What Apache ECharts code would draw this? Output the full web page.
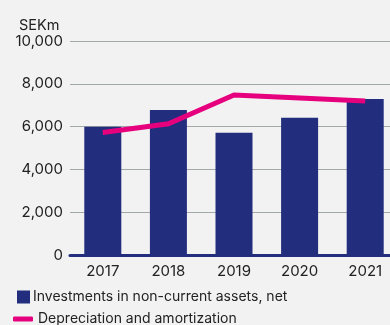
<!DOCTYPE html>
<html>
<head>
<meta charset="utf-8">
<script src="https://cdn.jsdelivr.net/npm/echarts@6/dist/echarts.min.js"></script>
<style>
  html, body { margin: 0; padding: 0; background: #f2f2f2; }
  #chart { width: 390px; height: 325px; }
</style>
</head>
<body>
<div id="chart"></div>
<script>
const years = ['2017', '2018', '2019', '2020', '2021'];
const investments = [5990, 6780, 5710, 6410, 7290];
const depreciation = [5720, 6130, 7480, 7340, 7200];
const yTicks = [0, 2000, 4000, 6000, 8000, 10000];

const NAVY = '#222d7e';
const PINK = '#e6007e';
const FONT = 'Inter';

const chart = echarts.init(document.getElementById('chart'), null, { renderer: 'canvas' });
chart.setOption({
  backgroundColor: '#f2f2f2',
  animation: false,
  textStyle: { fontFamily: FONT, color: '#222' },
  title: {
    text: 'SEKm', left: 14, top: 13,
    textStyle: { fontFamily: FONT, fontSize: 14.5, fontWeight: 'normal', color: '#222' }
  },
  grid: { left: 70, width: 328, top: 41, bottom: 70, containLabel: false, outerBoundsMode: 'none' },
  legend: [
    {
      data: [{ name: 'Investments in non-current assets, net', icon: 'rect' }],
      left: 17, top: 290, itemWidth: 13, itemHeight: 13, itemGap: 0,
      textStyle: { fontFamily: FONT, fontSize: 14, color: '#222', padding: [0, 0, 0, -2] },
      padding: 0, selectedMode: false
    },
    {
      data: [{ name: 'Depreciation and amortization', icon: 'roundRect' }],
      left: 13, top: 312, itemWidth: 20, itemHeight: 5, itemGap: 0,
      textStyle: { fontFamily: FONT, fontSize: 14, color: '#222' },
      padding: 0, selectedMode: false
    }
  ],
  xAxis: {
    type: 'category',
    data: years,
    z: 10,
    axisTick: { show: false },
    axisLine: { show: true, onZero: false, lineStyle: { color: NAVY, width: 3, opacity: 1 } },
    axisLabel: { fontFamily: FONT, fontSize: 15, color: '#222', margin: 9 }
  },
  yAxis: {
    type: 'value',
    z: 0,
    min: yTicks[0], max: yTicks[yTicks.length - 1], interval: 2000,
    axisLine: { show: false },
    axisTick: { show: false },
    splitLine: { showMinLine: false, lineStyle: { color: '#a3a9aa', width: 1 } },
    axisLabel: {
      fontFamily: FONT, fontSize: 15, color: '#222', margin: 7,
      formatter: v => v.toLocaleString('en-US')
    }
  },
  series: [
    {
      name: 'Investments in non-current assets, net',
      type: 'bar',
      data: investments,
      barWidth: 37,
      itemStyle: { color: NAVY },
      markLine: {
        silent: true,
        symbol: ['none', 'none'],
        label: { show: false },
        lineStyle: { color: NAVY, width: 3, type: 'solid', opacity: 1 },
        emphasis: { disabled: true },
        data: [{ yAxis: 0 }]
      }
    },
    {
      name: 'Depreciation and amortization',
      type: 'line',
      data: depreciation,
      symbol: 'none',
      lineStyle: { color: PINK, width: 5, cap: 'butt', join: 'miter' },
      itemStyle: { color: PINK },
      z: 5
    }
  ]
});
</script>
</body>
</html>
